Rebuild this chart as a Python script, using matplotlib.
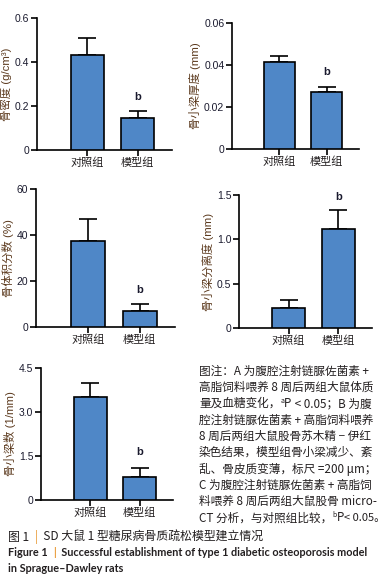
import matplotlib
matplotlib.use("Agg")
import matplotlib.pyplot as plt

W, H = 384, 584

# data
groups = ["对照组", "模型组"]
bmd_mean = [0.43, 0.145]
bmd_sd = [0.08, 0.033]
tbth_mean = [0.0414, 0.0273]
tbth_sd = [0.003, 0.0022]
bvtv_mean = [37.5, 7.0]
bvtv_sd = [9.5, 2.9]
tbsp_mean = [0.228, 1.113]
tbsp_sd = [0.083, 0.217]
tbn_mean = [3.52, 0.80]
tbn_sd = [0.46, 0.30]

bar_color = "#4f87c7"
lab_color = "#5c3a1e"
txt_color = "#231f20"
num_font = ["Liberation Sans", "Noto Sans CJK SC"]
cjk_font = ["Noto Sans CJK SC", "DejaVu Sans"]

fig = plt.figure(figsize=(W / 100, H / 100), dpi=100)
fig.patch.set_facecolor("white")


def px_axes(x0, x1, ytop, ybot):
    return fig.add_axes([x0 / W, 1 - ybot / H, (x1 - x0) / W, (ybot - ytop) / H])


def bar_panel(box, mean, sd, ylim, yticks, yticklabels, ylabel, b_y):
    ax = px_axes(*box)
    x = [0, 1]
    ax.bar(x, mean, width=0.66, color=bar_color, edgecolor="black", linewidth=1.2, zorder=3)
    ax.errorbar(x, mean, yerr=[[0, 0], sd], fmt="none", ecolor="black",
                elinewidth=1.2, capsize=6.5, capthick=1.2, zorder=2)
    ax.text(1, b_y, "b", ha="center", va="center", fontsize=8,
            color="#1a1a2e", family=num_font, weight="bold")
    ax.set_xlim(-1.0, 1.68)
    ax.set_ylim(*ylim)
    ax.set_yticks(yticks)
    ax.set_yticklabels(yticklabels, family=num_font, fontsize=7.5, color="#1a1a2e")
    ax.set_xticks(x)
    ax.set_xticklabels(groups, family=cjk_font, fontsize=8, color=txt_color)
    for s in ["top", "right"]:
        ax.spines[s].set_visible(False)
    for s in ["left", "bottom"]:
        ax.spines[s].set_linewidth(1.2)
    ax.tick_params(axis="both", direction="out", length=4, width=1.2, pad=1.5)
    ax.set_ylabel(ylabel, family=num_font, fontsize=8.2, color=lab_color, labelpad=2)
    ax.set_facecolor("none")
    return ax


bar_panel((37, 172, 18, 150), bmd_mean, bmd_sd, (0, 0.6), [0, 0.2, 0.4, 0.6],
          ["0", "0.2", "0.4", "0.6"], "骨密度 (g/cm³)", 0.24)
bar_panel((232, 359, 23, 149), tbth_mean, tbth_sd, (0, 0.06), [0, 0.02, 0.04, 0.06],
          ["0", "0.02", "0.04", "0.06"], "骨小梁厚度 (mm)", 0.0367)
bar_panel((36, 175, 189, 327), bvtv_mean, bvtv_sd, (0, 60), [0, 20, 40, 60],
          ["0", "20", "40", "60"], "骨体积分数 (%)", 16)
bar_panel((239, 372, 195, 328), tbsp_mean, tbsp_sd, (0, 1.5), [0, 0.5, 1.0, 1.5],
          ["0", "0.5", "1.0", "1.5"], "骨小梁分离度 (mm)", 1.48)
bar_panel((41, 173, 368, 500), tbn_mean, tbn_sd, (0, 4.5), [0, 1.5, 3.0, 4.5],
          ["0", "1.5", "3.0", "4.5"], "骨小梁数 (1/mm)", 1.64)

renderer = fig.canvas.get_renderer()


def pieces(x, y, parts, size, family=cjk_font, weight="normal"):
    # draw text pieces one after the other on one line (x, y in pixels)
    for s, kw in parts:
        dy = kw.get("dy", 0)
        t = fig.text(x / W, 1 - (y - dy) / H, s, ha="left", va="center",
                     fontsize=kw.get("size", size), color=kw.get("color", txt_color),
                     family=family, weight=weight, style=kw.get("style", "normal"))
        x += t.get_window_extent(renderer).width


note_lines = [
    [("图注：A 为腹腔注射链脲佐菌素 +", {})],
    [("高脂饲料喂养 8 周后两组大鼠体质", {})],
    [("量及血糖变化，", {}), ("a", {"size": 5, "dy": 3}), ("P", {"style": "italic"}),
     (" < 0.05；B 为腹", {})],
    [("腔注射链脲佐菌素 + 高脂饲料喂养", {})],
    [("8 周后两组大鼠股骨苏木精 − 伊红", {})],
    [("染色结果，模型组骨小梁减少、紊", {})],
    [("乱、骨皮质变薄，标尺 =200 μm；", {})],
    [("C 为腹腔注射链脲佐菌素 + 高脂饲", {})],
    [("料喂养 8 周后两组大鼠股骨 micro-", {})],
    [("CT 分析，与对照组比较，", {}), ("b", {"size": 5, "dy": 3}), ("P", {"style": "italic"}),
     ("< 0.05。", {"size": 8.0})],
]
for i, line in enumerate(note_lines):
    pieces(199, 371 + i * 16.33, line, 8.4)

bar_c = "#e8962e"
pieces(8, 537, [("图 1  ", {}), ("|", {"color": bar_c}),
                ("  SD 大鼠 1 型糖尿病骨质疏松模型建立情况", {})], 8.6)
pieces(8, 553, [("Figure 1  ", {}), ("|", {"color": bar_c}),
                ("  Successful establishment of type 1 diabetic osteoporosis model", {})],
       7.8, family=["Lato", "DejaVu Sans"], weight="bold")
pieces(8, 569, [("in Sprague–Dawley rats", {})], 7.8,
       family=["Lato", "DejaVu Sans"], weight="bold")

fig.savefig("out.png", dpi=100, facecolor="white")
